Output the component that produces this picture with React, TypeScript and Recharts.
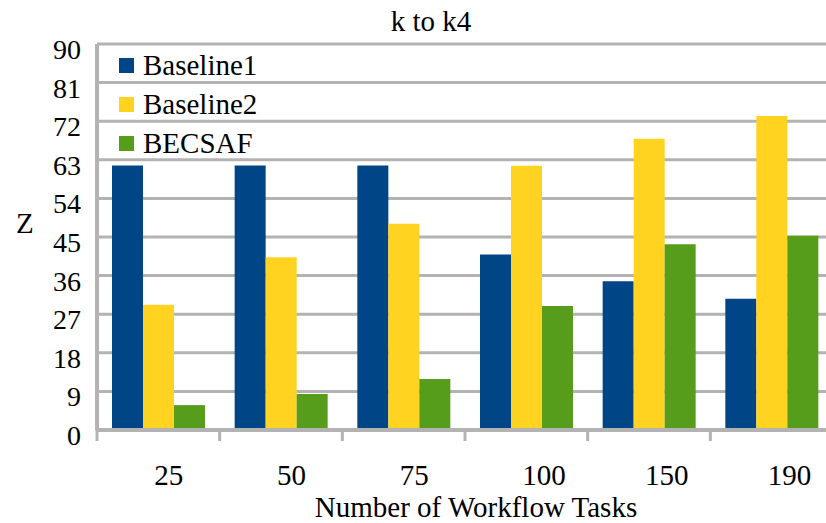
import React from 'react';
import { BarChart, Bar, XAxis, YAxis, CartesianGrid } from 'recharts';

const categories = ['25', '50', '75', '100', '150', '190'];
const baseline1 = [61.7, 61.7, 61.7, 40.9, 34.7, 30.6];
const baseline2 = [29.2, 40.3, 48.1, 61.6, 67.9, 73.2];
const becsaf = [5.8, 8.4, 11.9, 28.9, 43.3, 45.3];
const yTicks = [0, 9, 18, 27, 36, 45, 54, 63, 72, 81, 90];

const series = [
  { key: 'Baseline1', color: '#004586', values: baseline1 },
  { key: 'Baseline2', color: '#ffd320', values: baseline2 },
  { key: 'BECSAF', color: '#579d1c', values: becsaf },
];

const data = categories.map((c, i) => ({
  name: c,
  Baseline1: baseline1[i],
  Baseline2: baseline2[i],
  BECSAF: becsaf[i],
}));

const FONT = '"Times New Roman", Tinos, "Liberation Serif", "DejaVu Serif", serif';
const GRID = '#b3b3b3';

const XTick = (props: any) => {
  const { x, y, payload } = props;
  const left = x - (payload.offset || 0);
  return (
    <g>
      <line x1={left} y1={y} x2={left} y2={y + 11} stroke={GRID} strokeWidth={3} />
      <text x={x - 4} y={y + 55} textAnchor="start" fontSize={29} fontFamily={FONT} fill="#000">
        {payload.value}
      </text>
    </g>
  );
};

const YTick = (props: any) => {
  const { x, y, payload } = props;
  return (
    <text x={x} y={y + 15} textAnchor="end" fontSize={28} fontFamily={FONT} fill="#000">
      {payload.value}
    </text>
  );
};

export default function App() {
  const label: React.CSSProperties = { position: 'absolute', fontFamily: FONT, fontSize: 29, lineHeight: '34px', color: '#000', whiteSpace: 'nowrap' };
  return (
    <div style={{ position: 'absolute', left: 0, top: 0, width: 826, height: 523, overflow: 'hidden', background: '#fff' }}>
      <BarChart
        width={860}
        height={523}
        data={data}
        margin={{ top: 44, right: 27, bottom: 0, left: 0 }}
        barGap={0}
        barSize={31}
      >
        <CartesianGrid vertical={false} stroke={GRID} strokeWidth={3} />
        <XAxis
          dataKey="name"
          height={93}
          axisLine={{ stroke: GRID, strokeWidth: 4 }}
          tickLine={false}
          tickSize={0}
          tickMargin={0}
          tick={<XTick />}
          interval={0}
        />
        <YAxis
          width={97}
          domain={[0, 90]}
          ticks={yTicks}
          interval={0}
          axisLine={{ stroke: GRID, strokeWidth: 4 }}
          tickLine={false}
          tickSize={0}
          tickMargin={16}
          tick={<YTick />}
        />
        {series.map((s) => (
          <Bar key={s.key} dataKey={s.key} fill={s.color} isAnimationActive={false} />
        ))}
      </BarChart>
      {series.map((s, i) => (
        <div key={s.key} style={{ ...label, left: 119, top: 48 + i * 39 }}>
          <span style={{ position: 'absolute', left: 0, top: 10, width: 15, height: 15, background: s.color }} />
          <span style={{ position: 'absolute', left: 24, top: 0 }}>{s.key}</span>
        </div>
      ))}
      <div style={{ ...label, left: 0, width: 862, top: 4, textAlign: 'center' }}>k to k4</div>
      <div style={{ ...label, left: 16, top: 206 }}>Z</div>
      <div style={{ ...label, left: 0, width: 952, top: 490, textAlign: 'center' }}>Number of Workflow Tasks</div>
    </div>
  );
}
